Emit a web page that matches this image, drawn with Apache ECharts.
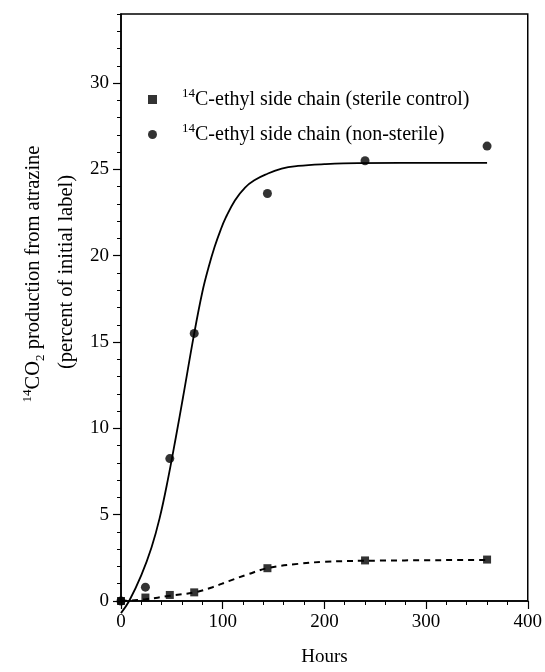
<!DOCTYPE html>
<html>
<head>
<meta charset="utf-8">
<script src="https://cdn.jsdelivr.net/npm/echarts@6/dist/echarts.min.js"></script>
<style>
  html, body { margin: 0; padding: 0; background: #fff; }
  #chart { width: 545px; height: 672px; }
</style>
</head>
<body>
<div id="chart"></div>
<script>
// measured points (hours, percent of initial label)
var hours = [0, 24, 48, 72, 144, 240, 360];
var sterile = [0, 0.2, 0.35, 0.5, 1.9, 2.35, 2.4];
var nonSterile = [0, 0.8, 8.25, 15.5, 23.6, 25.5, 26.35];

// fitted curves
var fitHoursSolid = [0, 8, 20, 30, 38, 46, 54, 61, 72, 80, 86, 92, 98, 103, 112, 122, 132, 142, 158, 174, 200, 233, 360];
var fitSolid = [-0.7, 0, 1.5, 3.1, 4.8, 7.0, 9.5, 11.8, 15.5, 17.9, 19.3, 20.5, 21.5, 22.2, 23.2, 23.95, 24.4, 24.7, 25.05, 25.2, 25.3, 25.36, 25.38];
var fitHoursDashed = [0, 24, 48, 72, 90, 106, 125, 144, 174, 200, 240, 360];
var fitDashed = [0, 0.1, 0.3, 0.5, 0.8, 1.15, 1.55, 1.9, 2.15, 2.27, 2.33, 2.38];

var yTicks = [0, 5, 10, 15, 20, 25, 30];
var nameSterile = '14C-ethyl side chain (sterile control)';
var nameNonSterile = '14C-ethyl side chain (non-sterile)';

var FONT = '"Liberation Serif", "Times New Roman", serif';

function pairs(xs, ys) {
    return xs.map(function (x, i) { return [x, ys[i]]; });
}

var chart = echarts.init(document.getElementById('chart'));

var option = {
    backgroundColor: '#fff',
    animation: false,
    grid: {
        left: 121, right: 15, top: 14, bottom: 67,
        show: true, borderColor: '#000', borderWidth: 1.5
    },
    legend: {
        orient: 'vertical',
        left: 143, top: 82,
        itemWidth: 9, itemHeight: 9, itemGap: 10,
        data: [{ name: nameSterile, icon: 'rect' }, { name: nameNonSterile, icon: 'circle' }],
        formatter: function (name) {
            return '{g| }{s|14}{n|' + name.slice(2) + '}';
        },
        textStyle: {
            color: '#000', fontFamily: FONT, fontSize: 20, lineHeight: 25,
            rich: {
                g: { width: 20 },
                s: { fontFamily: FONT, fontSize: 13, lineHeight: 13, verticalAlign: 'top', color: '#000' },
                n: { fontFamily: FONT, fontSize: 20, lineHeight: 25, color: '#000' }
            }
        }
    },
    xAxis: {
        type: 'value', min: 0, max: 400, interval: 100,
        name: 'Hours', nameLocation: 'middle', nameGap: 47,
        nameTextStyle: { color: '#000', fontFamily: FONT, fontSize: 19 },
        axisLine: { lineStyle: { color: '#000', width: 1.5 } },
        axisTick: { length: 8, lineStyle: { color: '#000', width: 1.2 } },
        minorTick: { show: true, splitNumber: 5, length: 4, lineStyle: { color: '#000', width: 1 } },
        axisLabel: { color: '#000', fontFamily: FONT, fontSize: 19, margin: 12 },
        splitLine: { show: false }
    },
    yAxis: [{
        type: 'value', min: 0, max: 34, interval: 5,
        axisLine: { show: true, lineStyle: { color: '#000', width: 1.5 } },
        axisTick: { length: 8, customValues: yTicks, lineStyle: { color: '#000', width: 1.2 } },
        axisLabel: { customValues: yTicks, color: '#000', fontFamily: FONT, fontSize: 19, margin: 12 },
        splitLine: { show: false }
    }, {
        // minor ticks every 1 unit
        type: 'value', min: 0, max: 34, interval: 1, position: 'left',
        axisLine: { show: false },
        axisTick: { show: true, length: 4, lineStyle: { color: '#000', width: 1 } },
        axisLabel: { show: false },
        splitLine: { show: false }
    }],
    graphic: [{
        type: 'text', x: 34, y: 274, rotation: Math.PI / 2,
        style: {
            text: '{s|14}{n|CO}{b|2}{n| production from atrazine}',
            fill: '#000', align: 'center', verticalAlign: 'middle',
            textAlign: 'center', textVerticalAlign: 'middle',
            font: '20.5px ' + FONT,
            rich: {
                s: { fontFamily: FONT, fontSize: 13, lineHeight: 13, verticalAlign: 'top', fill: '#000' },
                b: { fontFamily: FONT, fontSize: 13, lineHeight: 13, verticalAlign: 'bottom', fill: '#000' },
                n: { fontFamily: FONT, fontSize: 20.5, lineHeight: 26, fill: '#000' }
            }
        }
    }, {
        type: 'text', x: 67, y: 272, rotation: Math.PI / 2,
        style: {
            text: '(percent of initial label)',
            fill: '#000', align: 'center', verticalAlign: 'middle',
            textAlign: 'center', textVerticalAlign: 'middle',
            font: '20.5px ' + FONT
        }
    }],
    series: [{
        type: 'line', name: 'fit non-sterile',
        data: pairs(fitHoursSolid, fitSolid),
        smooth: 0.4, symbol: 'none', clip: false,
        lineStyle: { color: '#000', width: 1.8 },
        silent: true
    }, {
        type: 'line', name: 'fit sterile',
        data: pairs(fitHoursDashed, fitDashed),
        smooth: 0.4, symbol: 'none',
        lineStyle: { color: '#000', width: 2, type: [6, 5] },
        silent: true
    }, {
        type: 'scatter', name: nameSterile,
        data: pairs(hours, sterile),
        symbol: 'rect', symbolSize: 8,
        itemStyle: { color: '#000' }
    }, {
        type: 'scatter', name: nameNonSterile,
        data: pairs(hours, nonSterile),
        symbol: 'circle', symbolSize: 9,
        itemStyle: { color: '#000' }
    }]
};

chart.setOption(option);
</script>
</body>
</html>
